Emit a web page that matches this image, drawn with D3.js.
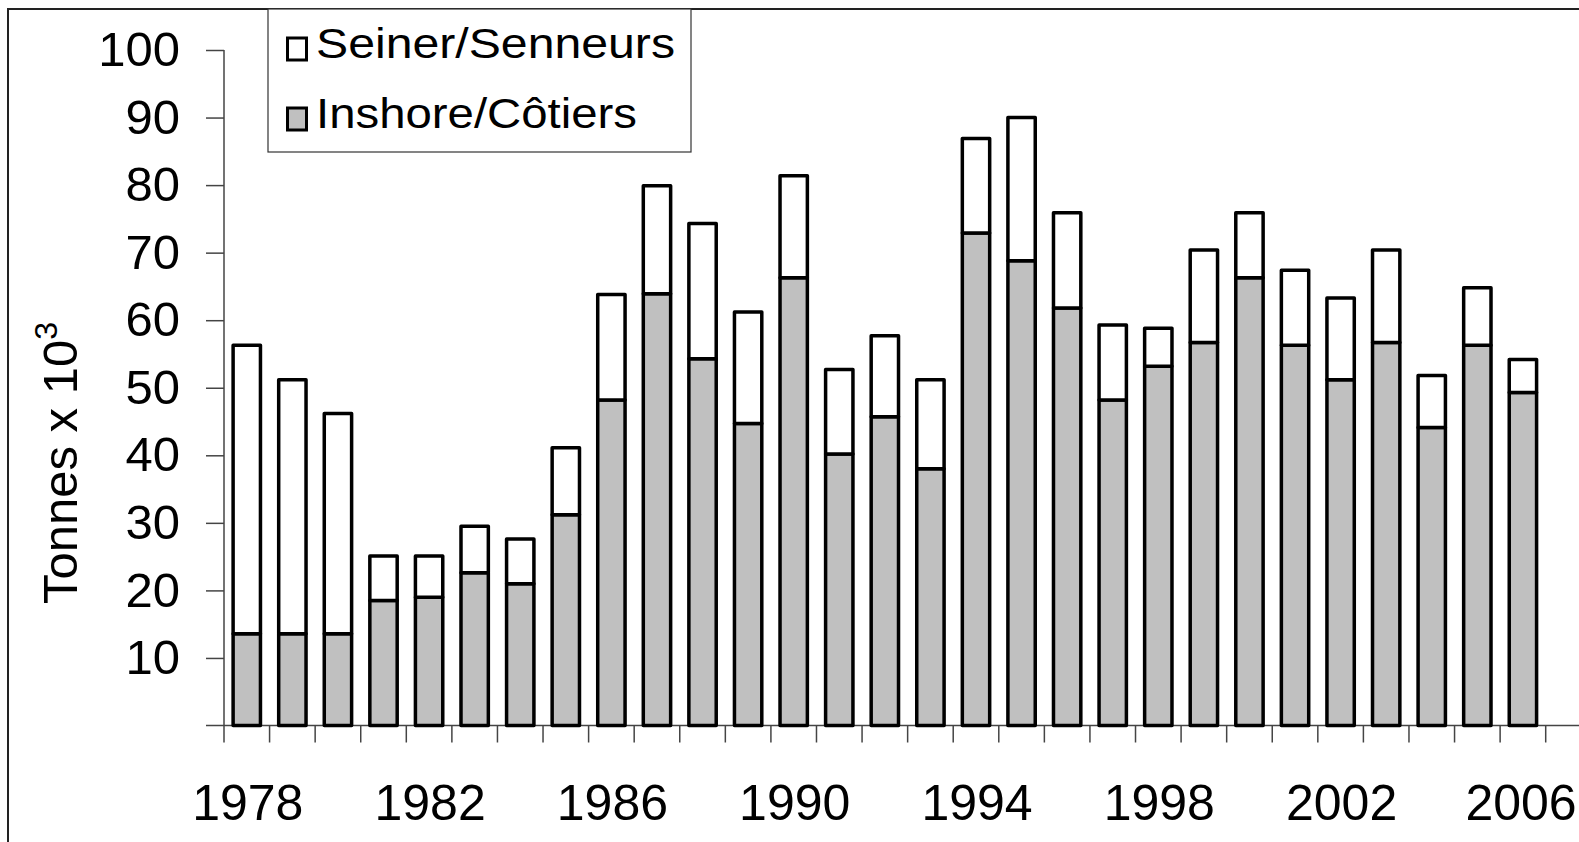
<!DOCTYPE html>
<html lang="en">
  <head>
    <meta charset="utf-8">
    <title>Inshore / Seiner landings</title>
    <style>
      body { margin: 0; background: #fff; }
      svg { display: block; font-family: "Liberation Sans", Arial, sans-serif; }
    </style>
  </head>
  <body>
    <div class="chart"></div>

    <script src="https://cdn.jsdelivr.net/npm/d3@7/dist/d3.min.js"></script>
    <script type="text/javascript">
      // values, tonnes x 10^3
      var years = d3.range(1978, 2007);
      var inshore = [13.6, 13.6, 13.6, 18.5, 19.0, 22.6, 21.0, 31.2, 48.2, 63.9,
                     54.3, 44.7, 66.3, 40.2, 45.7, 38.0, 72.9, 68.8, 61.8, 48.2,
                     53.2, 56.7, 66.3, 56.3, 51.2, 56.7, 44.1, 56.3, 49.3];
      var seiner  = [42.7, 37.6, 32.6, 6.6, 6.1, 6.9, 6.6, 9.9, 15.6, 16.0,
                     20.0, 16.5, 15.1, 12.5, 12.0, 13.2, 14.0, 21.2, 14.1, 11.1,
                     5.6, 13.7, 9.6, 11.1, 12.1, 13.7, 7.7, 8.5, 4.9];
      var yTicks = [10, 20, 30, 40, 50, 60, 70, 80, 90, 100];
      var xLabels = [1978, 1982, 1986, 1990, 1994, 1998, 2002, 2006];
      var seriesNames = ["Seiner/Senneurs", "Inshore/Côtiers"];

      var W = 1579, H = 842;

      var svg = d3.select(".chart")
        .append("svg")
          .attr("width", W)
          .attr("height", H);

      // outer frame
      svg.append("rect")
          .attr("x", 8).attr("y", 9)
          .attr("width", 1700).attr("height", 1000)
          .attr("fill", "none")
          .attr("stroke", "#222")
          .attr("stroke-width", 2);

      var x = d3.scaleBand()
          .domain(years)
          .range([224, 1545.7])
          .paddingInner(0.4)
          .paddingOuter(0.2);

      var y = d3.scaleLinear()
          .domain([0, 100])
          .range([725.5, 50]);

      var table = years.map(function(yr, i) {
        return { year: yr, inshore: inshore[i], seiner: seiner[i] };
      });
      var stack = d3.stack().keys(["inshore", "seiner"])(table);
      var fills = { inshore: "#c0c0c0", seiner: "#ffffff" };

      // axes
      var axisColor = "#444";
      var yAxis = svg.append("g")
          .attr("transform", "translate(224,0)")
          .call(d3.axisLeft(y).tickValues(yTicks).tickSize(18).tickPadding(26).tickFormat(d3.format("d")));
      yAxis.select(".domain").remove();
      yAxis.selectAll(".tick line").attr("stroke", axisColor).attr("stroke-width", 1.5);
      yAxis.selectAll(".tick text")
          .attr("font-size", 49)
          .attr("fill", "#000")
          .attr("font-family", "Liberation Sans, Arial, sans-serif");

      svg.append("line")
          .attr("x1", 224).attr("x2", 224)
          .attr("y1", y(100)).attr("y2", y(0))
          .attr("stroke", axisColor).attr("stroke-width", 1.5);
      svg.append("line")
          .attr("x1", 206).attr("x2", W)
          .attr("y1", y(0)).attr("y2", y(0))
          .attr("stroke", axisColor).attr("stroke-width", 1.5);

      // x ticks sit between categories
      var gap = (x.step() - x.bandwidth()) / 2;
      var bounds = years.map(function(yr) { return x(yr) - gap; });
      bounds.push(x(years[years.length - 1]) + x.bandwidth() + gap);
      svg.append("g").selectAll("line")
          .data(bounds)
          .enter().append("line")
          .attr("x1", function(d) { return d; })
          .attr("x2", function(d) { return d; })
          .attr("y1", y(0)).attr("y2", y(0) + 17)
          .attr("stroke", axisColor).attr("stroke-width", 1.5);

      svg.append("g").selectAll("text")
          .data(xLabels)
          .enter().append("text")
          .attr("x", function(d) { return Math.min(x(d) + x.bandwidth() / 2 + 1, 1521); })
          .attr("y", 820)
          .attr("text-anchor", "middle")
          .attr("font-size", 50)
          .text(function(d) { return d; });

      // bars
      svg.append("g").selectAll("g")
          .data(stack)
          .enter().append("g")
          .attr("fill", function(s) { return fills[s.key]; })
          .selectAll("rect")
          .data(function(s) { return s; })
          .enter().append("rect")
          .attr("x", function(d) { return x(d.data.year); })
          .attr("width", x.bandwidth())
          .attr("y", function(d) { return y(d[1]); })
          .attr("height", function(d) { return y(d[0]) - y(d[1]); })
          .attr("stroke", "#000")
          .attr("stroke-width", 3.5)
          .attr("stroke-linejoin", "round");

      // y title
      var title = svg.append("text")
          .attr("transform", "translate(77,463) rotate(-90)")
          .attr("text-anchor", "middle")
          .attr("font-size", 49);
      title.append("tspan").text("Tonnes x 10");
      title.append("tspan").attr("dy", -20).attr("font-size", 32).text("3");

      // legend
      var legend = svg.append("g");
      legend.append("rect")
          .attr("x", 268).attr("y", 9)
          .attr("width", 423).attr("height", 143)
          .attr("fill", "#fff")
          .attr("stroke", "#333")
          .attr("stroke-width", 1.2);

      var legendRows = legend.selectAll("g.row")
          .data(seriesNames)
          .enter().append("g")
          .attr("class", "row")
          .attr("transform", function(d, i) { return "translate(0," + (i * 70) + ")"; });
      legendRows.append("rect")
          .attr("x", 287.5).attr("y", 38)
          .attr("width", 19).attr("height", 22)
          .attr("fill", function(d, i) { return i === 0 ? fills.seiner : fills.inshore; })
          .attr("stroke", "#000")
          .attr("stroke-width", 3);
      legendRows.append("text")
          .attr("x", 316).attr("y", 58)
          .attr("font-size", 42)
          .attr("textLength", function(d, i) { return i === 0 ? 359 : 321; })
          .attr("lengthAdjust", "spacingAndGlyphs")
          .text(function(d) { return d; });
    </script>
  </body>
</html>
